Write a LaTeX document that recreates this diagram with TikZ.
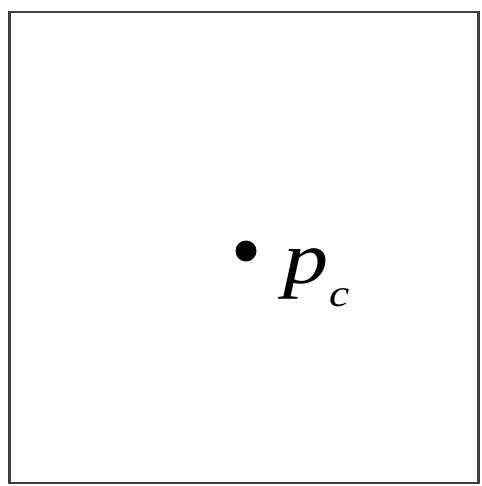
\documentclass[tikz,border=0pt]{standalone}
\usepackage{fontspec}
\usepackage{graphicx}
\setmainfont{Liberation Serif}
\begin{document}
\begin{tikzpicture}[x=1pt,y=-1pt,
  frame/.style={draw=black!75,line width=2.4pt},
  dotstyle/.style={circle,fill=black,inner sep=0pt,minimum size=21pt},
  labelstyle/.style={inner sep=0pt,anchor=base west}]
\useasboundingbox (0,0) rectangle (481,486);
\draw[frame] (9.5,12) rectangle (478.5,483);
\node[dotstyle] (pc) at (246,251) {};
\node[labelstyle] (lab) at (283,283) {\scalebox{1.22}[1]{\fontsize{74}{76}\selectfont\itshape p}\hspace{1pt}\raisebox{-23pt}{\scalebox{1.2}[1]{\fontsize{38}{40}\selectfont\itshape c}}};
\end{tikzpicture}
\end{document}
